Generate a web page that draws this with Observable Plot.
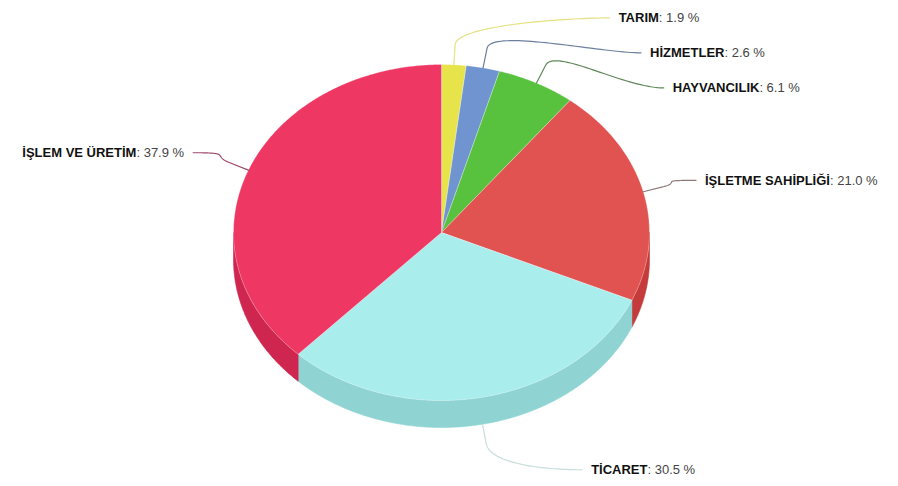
<!DOCTYPE html>
<html><head><meta charset="utf-8">
<script src="https://cdn.jsdelivr.net/npm/d3@7"></script>
<script src="https://cdn.jsdelivr.net/npm/@observablehq/plot@0.6"></script>
<style>html,body{margin:0;padding:0;background:#fff;overflow:hidden}</style>
</head><body><div id="chart"></div>
<script>
// ---- data ----
const categories = ["TARIM", "HİZMETLER", "HAYVANCILIK", "İŞLETME SAHİPLİĞİ", "TİCARET", "İŞLEM VE ÜRETİM"];
const values = [1.9, 2.6, 6.1, 21.0, 30.5, 37.9];
const valueLabels = ["1.9 %", "2.6 %", "6.1 %", "21.0 %", "30.5 %", "37.9 %"];
const topColors = ["#e6e34b", "#6f94cf", "#58c23e", "#e05350", "#a9eded", "#ee3763"];
const sideColors = ["#c9c63a", "#5677ad", "#44a02e", "#c53b3b", "#8fd4d3", "#cf2650"];
const connectorColors = ["#e4e282", "#6d7f9f", "#5f8858", "#8f7a7a", "#c9dddd", "#9e4a6c"];

// ---- layout parameters ----
const W = 898, H = 486;
const cx = 441, cy = 232, rx = 208, ry = 168, depth = 27;
const labelNatR = 215, labelXR = 268, labelYR = 286, labelGap = 35, labelTop = 17;
const FONT_FAMILY = "'Liberation Sans', Arial, sans-serif";
const FONT_SIZE = 13;

const data = categories.map((c, i) => ({name: c, value: values[i], label: valueLabels[i], i}));
const arcs = d3.pie().sort(null).value(d => d.value)(data);

const pt = (a, dy = 0) => [cx + rx * Math.sin(a), cy - ry * Math.cos(a) + dy];
function arcPoints(a0, a1, dy = 0) {
  const n = Math.max(2, Math.ceil((a1 - a0) / (Math.PI / 360)));
  return d3.range(n + 1).map(k => pt(a0 + (a1 - a0) * k / n, dy));
}

const marks = [];
// sides (visible lower half)
arcs.forEach(a => {
  const s = Math.max(a.startAngle, Math.PI / 2), e = Math.min(a.endAngle, 3 * Math.PI / 2);
  if (e > s) {
    const poly = [...arcPoints(s, e), ...arcPoints(s, e, depth).reverse()];
    poly.push(poly[0]);
    marks.push(Plot.line(poly, {x: d => d[0], y: d => d[1], fill: sideColors[a.data.i], stroke: sideColors[a.data.i], strokeWidth: 0.6, curve: "linear"}));
  }
});
// tops
arcs.forEach(a => {
  const poly = [[cx, cy], ...arcPoints(a.startAngle, a.endAngle), [cx, cy]];
  marks.push(Plot.line(poly, {x: d => d[0], y: d => d[1], fill: topColors[a.data.i], stroke: "#ffffff", strokeOpacity: 0.35, strokeWidth: 0.8, curve: "linear"}));
});

// label placement
const labels = arcs.map(a => {
  const mid = (a.startAngle + a.endAngle) / 2;
  const c = Math.cos(mid), s = Math.sin(mid);
  const ny = cy - labelNatR * c + (c < 0 ? depth * (-c) : 0);
  return {d: a.data, mid, c, s, right: s >= 0, ny};
});
for (const side of [true, false]) {
  const group = labels.filter(l => l.right === side).sort((p, q) => p.ny - q.ny);
  let prev = -Infinity;
  group.forEach(l => { l.y = Math.max(l.ny, labelTop, prev + labelGap); prev = l.y; });
}
labels.forEach(l => {
  const t = (l.y - cy) / labelYR;
  const off = labelXR * Math.sqrt(Math.max(0, 1 - t * t));
  l.x = l.right ? cx + off : cx - off;
});

// connectors
labels.forEach(l => {
  const sign = l.right ? 1 : -1;
  const P0 = pt(l.mid, l.c < 0 ? depth : 0);
  const B = [P0[0] + 20 * l.s, P0[1] - 20 * l.c];
  const S = [l.x - sign * 9, l.y];
  const C1 = [S[0] - sign * 40, S[1]];
  const C2 = [2 * B[0] - P0[0], 2 * B[1] - P0[1]];
  const pts = d3.range(41).map(k => {
    const t = k / 40, u = 1 - t;
    return [
      u*u*u*S[0] + 3*u*u*t*C1[0] + 3*u*t*t*C2[0] + t*t*t*B[0],
      u*u*u*S[1] + 3*u*u*t*C1[1] + 3*u*t*t*C2[1] + t*t*t*B[1]
    ];
  });
  pts.push(P0);
  marks.push(Plot.line(pts, {x: d => d[0], y: d => d[1], stroke: connectorColors[l.d.i], strokeWidth: 1.2, curve: "linear"}));
});

// texts (name bold + value regular, split into tspans after render)
const SEP = "\u2063";
const textOpts = {x: "x", y: "y", text: d => d.d.name + SEP + ": " + d.d.label, fontSize: FONT_SIZE, fontFamily: FONT_FAMILY, fill: "#444"};
marks.push(Plot.text(labels.filter(l => l.right), {...textOpts, textAnchor: "start"}));
marks.push(Plot.text(labels.filter(l => !l.right), {...textOpts, textAnchor: "end"}));

const chart = Plot.plot({
  width: W, height: H, margin: 0,
  x: {domain: [0, W], range: [0, W], axis: null},
  y: {domain: [0, H], range: [0, H], axis: null},
  style: {background: "#fff", fontFamily: FONT_FAMILY},
  marks
});
chart.querySelectorAll("text").forEach(t => {
  const s = t.textContent;
  if (!s.includes(SEP)) return;
  const [name, val] = s.split(SEP);
  t.textContent = "";
  const ns = "http://www.w3.org/2000/svg";
  const a = document.createElementNS(ns, "tspan");
  a.setAttribute("font-weight", "bold"); a.setAttribute("fill", "#111"); a.textContent = name;
  const b = document.createElementNS(ns, "tspan");
  b.setAttribute("font-weight", "normal"); b.textContent = val;
  t.appendChild(a); t.appendChild(b);
});
document.getElementById("chart").appendChild(chart);
</script>
</body></html>
